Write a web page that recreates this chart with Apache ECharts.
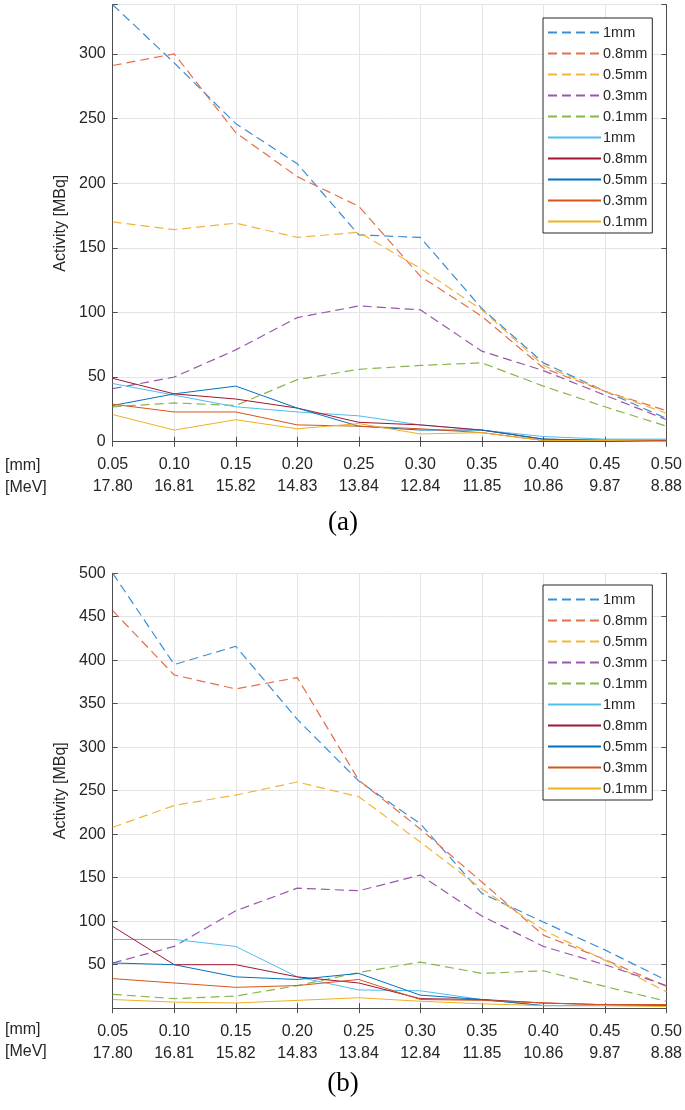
<!DOCTYPE html>
<html>
<head>
<meta charset="utf-8">
<script src="https://cdn.jsdelivr.net/npm/echarts@6/dist/echarts.min.js"></script>
<style>
  html, body { margin: 0; padding: 0; background: #fff; }
  #chart { width: 685px; height: 1110px; }
</style>
</head>
<body>
<div id="chart"></div>
<script>
// x categories
var mmLabels = ['0.05', '0.10', '0.15', '0.20', '0.25', '0.30', '0.35', '0.40', '0.45', '0.50'];
var mevLabels = ['17.80', '16.81', '15.82', '14.83', '13.84', '12.84', '11.85', '10.86', '9.87', '8.88'];
var thickNames = ['1mm', '0.8mm', '0.5mm', '0.3mm', '0.1mm'];

// (a) dashed
var aDash1 = [338, 293, 246, 215, 160, 158, 103, 61, 39, 18];
var aDash08 = [291, 300, 239, 205, 182, 128, 97, 57, 39, 24];
var aDash05 = [170, 164, 169, 158, 162, 134, 102, 59, 39, 22];
var aDash03 = [41, 50, 71, 96, 105, 102, 70, 55, 36, 17];
var aDash01 = [27, 30, 28, 48, 56, 59, 61, 43, 27, 12];
// (a) solid
var aSolid1 = [45, 36, 27, 23, 20, 13, 9, 4, 2, 2];
var aSolid08 = [49, 37, 33, 26, 15, 13, 9, 2, 1, 1];
var aSolid05 = [28, 37, 43, 26, 12, 9, 9, 2, 1, 1];
var aSolid03 = [29, 23, 23, 13, 12, 10, 7, 1, 1, 1];
var aSolid01 = [21, 9, 17, 10, 14, 6, 7, 1, 1, 0];

// (b) dashed
var bDash1 = [500, 395, 416, 332, 261, 212, 132, 99, 67, 32];
var bDash08 = [457, 383, 367, 380, 262, 206, 145, 84, 56, 25];
var bDash05 = [208, 233, 245, 260, 243, 191, 137, 90, 55, 19];
var bDash03 = [52, 71, 112, 138, 135, 153, 106, 71, 50, 26];
var bDash01 = [16, 11, 14, 26, 41, 53, 40, 43, 25, 8];
// (b) solid
var bSolid1 = [79, 79, 71, 36, 21, 20, 10, 3, 3, 3];
var bSolid08 = [94, 50, 50, 36, 29, 11, 10, 6, 4, 4];
var bSolid05 = [52, 50, 36, 33, 40, 15, 10, 3, 3, 3];
var bSolid03 = [34, 29, 24, 26, 33, 10, 9, 6, 4, 4];
var bSolid01 = [10, 7, 6, 9, 12, 8, 5, 3, 3, 2];

var dashColors = ['#3d8dd3', '#e2704c', '#f0b53e', '#9a57ad', '#87b64c'];
var solidColors = ['#4dbeee', '#a2142f', '#0072bd', '#d95319', '#edb120'];

var FONT = '"Liberation Sans", Arial, sans-serif';
var TXT = '#262626';
var AX = '#4d4d4d';

// solid series get an invisible suffix so the legend keeps both groups
var solidNames = thickNames.map(function (n) { return n + '\u200b'; });
var legendNames = thickNames.concat(solidNames);

function lineSeries(name, data, color, dashed, axisIdx) {
  return {
    name: name,
    type: 'line',
    data: data,
    xAxisIndex: axisIdx,
    yAxisIndex: axisIdx,
    symbol: 'none',
    showSymbol: false,
    animation: false,
    lineStyle: { color: color, width: dashed ? 1.2 : 1, type: dashed ? [9, 5] : 'solid' },
    itemStyle: { color: color },
    z: dashed ? 3 : 4
  };
}

function xAxes(gridIdx) {
  return [{
    type: 'category', gridIndex: gridIdx, data: mmLabels, boundaryGap: false, position: 'bottom',
    axisLine: { lineStyle: { color: AX, width: 1 } },
    axisTick: { inside: true, length: 5, lineStyle: { color: AX } },
    axisLabel: {
      color: TXT, fontFamily: FONT, fontSize: 16, lineHeight: 22, margin: 12,
      formatter: function (v, i) { return v + '\n' + mevLabels[i]; }
    },
    splitLine: { show: true, lineStyle: { color: '#e4e4e4', width: 1 } }
  }, {
    type: 'category', gridIndex: gridIdx, data: mmLabels, boundaryGap: false, position: 'top',
    axisLine: { lineStyle: { color: AX, width: 1 } },
    axisTick: { inside: true, length: 5, lineStyle: { color: AX } },
    axisLabel: { show: false },
    splitLine: { show: false }
  }];
}

function yAxes(gridIdx, max) {
  return [{
    type: 'value', gridIndex: gridIdx, min: 0, max: max, interval: 50, position: 'left',
    name: 'Activity [MBq]', nameLocation: 'middle', nameGap: 42,
    nameTextStyle: { color: TXT, fontFamily: FONT, fontSize: 16 },
    axisLine: { show: true, lineStyle: { color: AX, width: 1 } },
    axisTick: { show: true, inside: true, length: 5, lineStyle: { color: AX } },
    axisLabel: {
      color: TXT, fontFamily: FONT, fontSize: 16, margin: 7,
      formatter: function (v) {
        if (v % 50 !== 0) return '';
        if (gridIdx === 1 && v === 0) return '';
        return String(v);
      }
    },
    splitLine: { show: true, lineStyle: { color: '#e4e4e4', width: 1 } }
  }, {
    type: 'value', gridIndex: gridIdx, min: 0, max: max, interval: 50, position: 'right',
    axisLine: { show: true, lineStyle: { color: AX, width: 1 } },
    axisTick: { show: true, inside: true, length: 5, lineStyle: { color: AX } },
    axisLabel: { show: false },
    splitLine: { show: false }
  }];
}

function legendBox(top) {
  return {
    orient: 'vertical', left: 543, top: top,
    data: legendNames,
    itemWidth: 53, itemHeight: 14, itemGap: 6,
    padding: [7, 5, 4, 4],
    borderColor: '#262626', borderWidth: 1, backgroundColor: '#fff',
    itemStyle: { color: 'transparent', borderWidth: 0, opacity: 0 },
    textStyle: { color: TXT, fontFamily: FONT, fontSize: 14.5, lineHeight: 14, padding: [0, 0, 0, -3] },
    selectedMode: false
  };
}

var aDash = [aDash1, aDash08, aDash05, aDash03, aDash01];
var aSolid = [aSolid1, aSolid08, aSolid05, aSolid03, aSolid01];
var bDash = [bDash1, bDash08, bDash05, bDash03, bDash01];
var bSolid = [bSolid1, bSolid08, bSolid05, bSolid03, bSolid01];

var series = [];
thickNames.forEach(function (n, i) { series.push(lineSeries(n, aDash[i], dashColors[i], true, 0)); });
solidNames.forEach(function (n, i) { series.push(lineSeries(n, aSolid[i], solidColors[i], false, 0)); });
thickNames.forEach(function (n, i) { series.push(lineSeries(n, bDash[i], dashColors[i], true, 2)); });
solidNames.forEach(function (n, i) { series.push(lineSeries(n, bSolid[i], solidColors[i], false, 2)); });

var chart = echarts.init(document.getElementById('chart'), null, { renderer: 'canvas' });
chart.setOption({
  backgroundColor: '#fff',
  animation: false,
  grid: [
    { left: 112.7, top: 4.7, width: 555, height: 437 },
    { left: 112.7, top: 573.2, width: 555, height: 435 }
  ],
  xAxis: xAxes(0).concat(xAxes(1)),
  yAxis: yAxes(0, 338).concat(yAxes(1, 500)),
  legend: [legendBox(18), legendBox(585)],
  graphic: [
    { type: 'text', left: 5, top: 455, style: { text: '[mm]\n[MeV]', fill: TXT, font: '16px ' + FONT, lineHeight: 22 } },
    { type: 'text', left: 5, top: 1019, style: { text: '[mm]\n[MeV]', fill: TXT, font: '16px ' + FONT, lineHeight: 22 } },
    { type: 'text', x: 343, y: 523, style: { text: '(a)', fill: '#000', font: '27px "Liberation Serif", "DejaVu Serif", serif', align: 'center', verticalAlign: 'middle' } },
    { type: 'text', x: 343, y: 1084, style: { text: '(b)', fill: '#000', font: '27px "Liberation Serif", "DejaVu Serif", serif', align: 'center', verticalAlign: 'middle' } }
  ],
  series: series
});
</script>
</body>
</html>
